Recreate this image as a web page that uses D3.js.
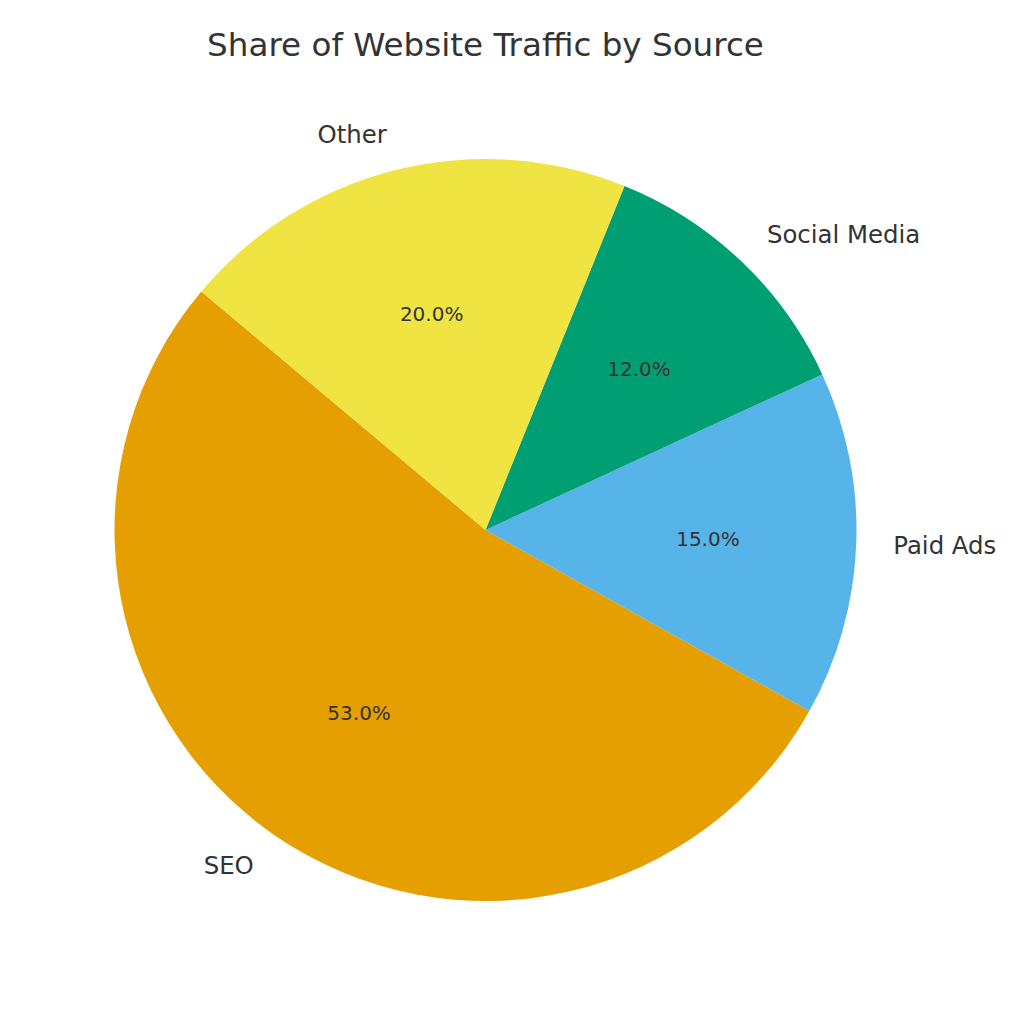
<!DOCTYPE html>
<html><head><meta charset="utf-8">
<script src="https://cdn.jsdelivr.net/npm/d3@7"></script>
<style>body{margin:0;background:#fff}svg{display:block}text{font-family:"DejaVu Sans",sans-serif;fill:#333333}</style>
</head><body><svg id="c" width="1024" height="1024"></svg>
<script>
const categories = ["SEO", "Paid Ads", "Social Media", "Other"];
const values = [53, 15, 12, 20];
const colors = ["#E69F00", "#56B4E9", "#009E73", "#F0E442"];
const title = "Share of Website Traffic by Source";

const svg = d3.select("#c");
const cx = 485.5, cy = 530, r = 371;
const startDeg = 140; // matplotlib startangle, counterclockwise
const data = categories.map((c, i) => ({cat: c, v: values[i], color: colors[i]}));
const total = d3.sum(values);

// d3 angles: clockwise from 12 o'clock. matplotlib: counterclockwise from 3 o'clock.
const toD3 = deg => (90 - deg) * Math.PI / 180;
const pie = d3.pie().value(d => d.v).sort(null)
  .startAngle(toD3(startDeg)).endAngle(toD3(startDeg) - 2 * Math.PI);
const arcs = pie(data);
const arc = d3.arc().innerRadius(0).outerRadius(r);
const g = svg.append("g").attr("transform", `translate(${cx},${cy})`);
g.selectAll("path").data(arcs).join("path")
  .attr("d", arc).attr("fill", d => d.data.color);

arcs.forEach(a => {
  const mid = (a.startAngle + a.endAngle) / 2;
  const sx = Math.sin(mid), sy = -Math.cos(mid);
  g.append("text")
    .attr("x", 1.1 * r * sx).attr("y", 1.1 * r * sy)
    .attr("text-anchor", sx > 0 ? "start" : "end")
    .attr("dominant-baseline", "central")
    .style("font-size", "24.4px")
    .text(a.data.cat);
  g.append("text")
    .attr("x", 0.6 * r * sx).attr("y", 0.6 * r * sy)
    .attr("text-anchor", "middle")
    .attr("dominant-baseline", "central")
    .style("font-size", "20px")
    .text((a.data.v / total * 100).toFixed(1) + "%");
});

svg.append("text").attr("x", cx).attr("y", 56)
  .attr("text-anchor", "middle").style("font-size", "32.6px").text(title);
</script></body></html>
